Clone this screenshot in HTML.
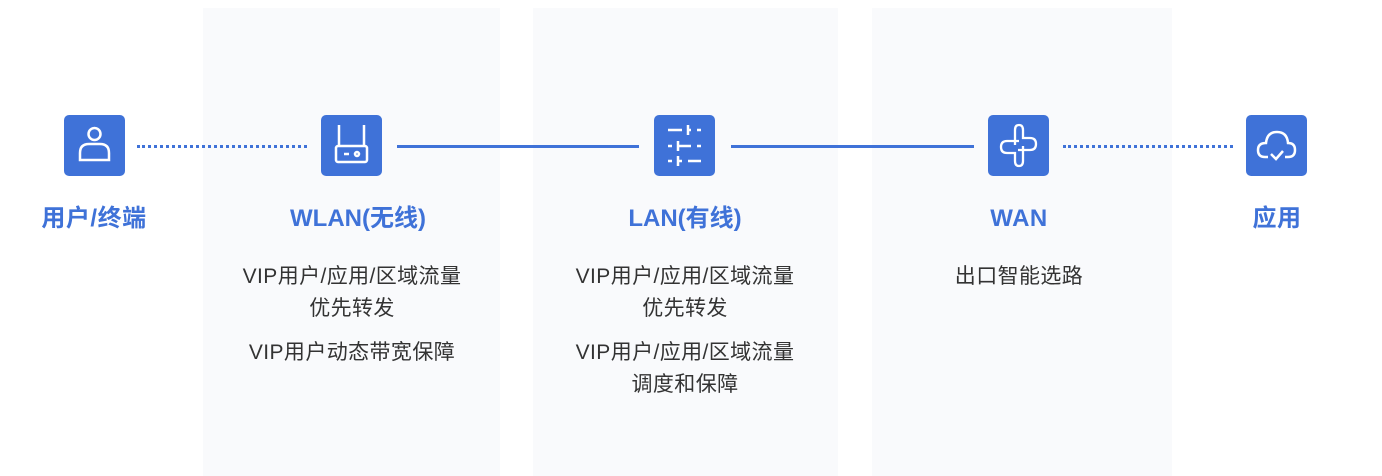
<!DOCTYPE html>
<html><head><meta charset="utf-8"><style>
body{margin:0;width:1382px;height:476px;background:#fff;position:relative;overflow:hidden;font-family:"Liberation Sans","Noto Sans CJK SC",sans-serif}
.p{position:absolute;top:8px;height:468px;background:#f9fafc}
.ic{position:absolute;top:115px;width:61px;height:61px;background:#3f72d8;border-radius:5px}
.ic svg{width:61px;height:61px}
.lb{position:absolute;top:204px;width:300px;margin-left:-150px;text-align:center;color:#3f72d8;font-weight:bold;font-size:24px;line-height:30px;letter-spacing:0.5px}
.d{position:absolute;width:320px;margin-left:-160px;text-align:center;color:#333;font-size:21px;line-height:32px;letter-spacing:0.4px}
.ln{position:absolute;top:145px;height:0}
</style></head><body>
<div class="p" style="left:203px;width:297px"></div>
<div class="p" style="left:533px;width:305px"></div>
<div class="p" style="left:872px;width:300px"></div>

<div class="ln" style="left:137px;width:170px;border-top:3px dotted #3f72d8"></div>
<div class="ln" style="left:397px;width:242px;border-top:3px solid #3f72d8"></div>
<div class="ln" style="left:731px;width:243px;border-top:3px solid #3f72d8"></div>
<div class="ln" style="left:1063px;width:170px;border-top:3px dotted #3f72d8"></div>

<div class="ic" style="left:64px"><svg viewBox="0 0 61 61" fill="none" stroke="#fff" stroke-width="2.5"><circle cx="30.5" cy="19" r="6"/><path d="M16 45 V38 Q16 29 25 29 H36 Q45 29 45 38 V45 Z"/></svg></div>
<div class="ic" style="left:321px"><svg viewBox="0 0 61 61" fill="none" stroke="#fff" stroke-width="2.5"><path d="M18 10 V30 M43 10 V30"/><rect x="15" y="31" width="31" height="16" rx="2"/><path d="M23 39 H28"/><circle cx="36" cy="39" r="2"/></svg></div>
<div class="ic" style="left:654px"><svg viewBox="0 0 61 61" fill="none" stroke="#fff" stroke-width="2.5"><path d="M14 15 H28 M34 15 H37 M43 15 H47 M34 10 V20 M14 31 H18 M24 31 H37 M43 31 H47 M24 26 V36 M14 46 H18 M24 46 H28 M34 46 H47 M24 41 V51"/></svg></div>
<div class="ic" style="left:988px"><svg viewBox="0 0 61 61" fill="none" stroke="#fff" stroke-width="2.3"><path d="M27 30 V15 Q27 10 31 10 Q35 10 35 15 V23 H42 Q48 23 48 29 Q48 35 42 35 H30"/><path d="M35 31 V46 Q35 51 31 51 Q27 51 27 46 V38 H19 Q13 38 13 32 Q13 26 19 26 H31"/></svg></div>
<div class="ic" style="left:1246px"><svg viewBox="0 0 61 61" fill="none" stroke="#fff" stroke-width="2.5"><path d="M22 42 H19 Q12 42 12 35 Q12 28 20 28 Q21 17 31 17 Q41 17 42 28 Q49 28 49 35 Q49 42 42 42 H39"/><path d="M25 39 L30 44 L37 36"/></svg></div>

<div class="lb" style="left:94px">用户/终端</div>
<div class="lb" style="left:358px;letter-spacing:0px">WLAN(无线)</div>
<div class="lb" style="left:685px;letter-spacing:0px">LAN(有线)</div>
<div class="lb" style="left:1019px">WAN</div>
<div class="lb" style="left:1277px">应用</div>

<div class="d" style="left:352px;top:261px">VIP用户/应用/区域流量<br>优先转发</div>
<div class="d" style="left:352px;top:337px">VIP用户动态带宽保障</div>
<div class="d" style="left:685px;top:261px">VIP用户/应用/区域流量<br>优先转发</div>
<div class="d" style="left:685px;top:337px">VIP用户/应用/区域流量<br>调度和保障</div>
<div class="d" style="left:1019px;top:261px">出口智能选路</div>
</body></html>
